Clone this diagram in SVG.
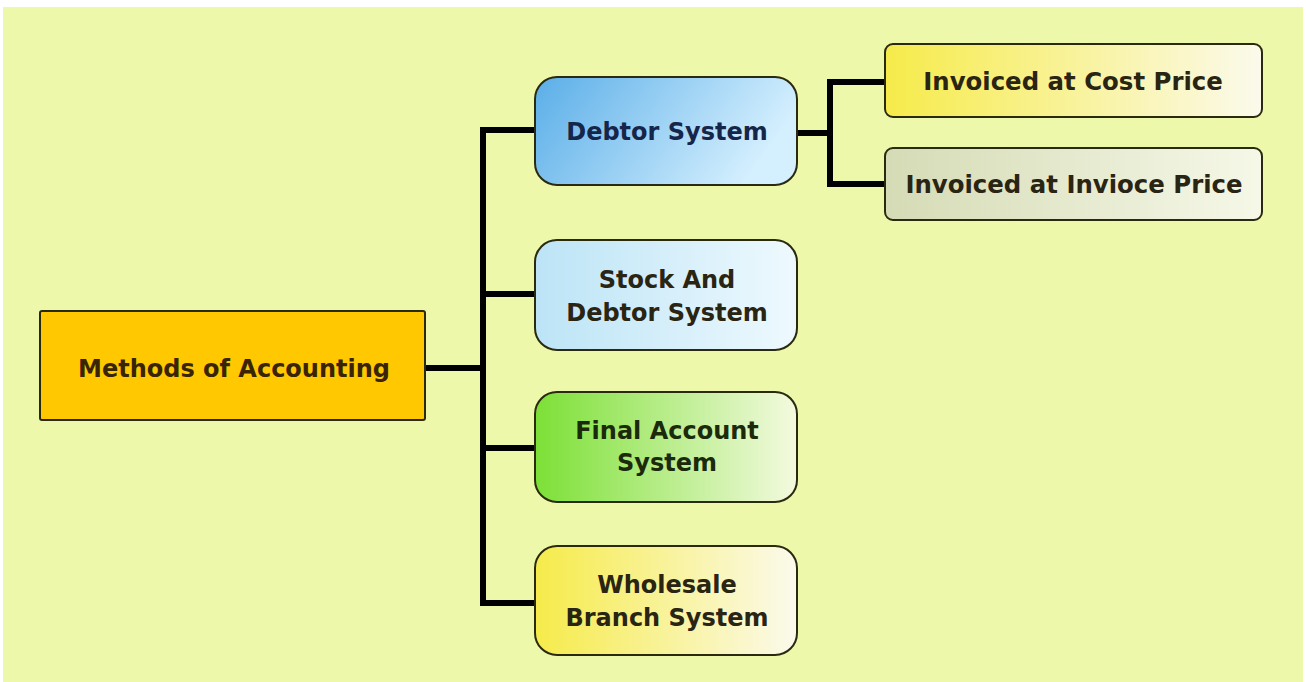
<svg xmlns="http://www.w3.org/2000/svg" width="1306" height="682" viewBox="0 0 1306 682">
<defs>
<linearGradient id="gBlue" x1="0" y1="0" x2="1" y2="0.3"><stop offset="0" stop-color="#5AAEE8"/><stop offset="1" stop-color="#D4EFFE"/></linearGradient>
<linearGradient id="gCyan" x1="0" y1="0" x2="1" y2="0"><stop offset="0" stop-color="#BCE4F6"/><stop offset="1" stop-color="#EEF9FE"/></linearGradient>
<linearGradient id="gGreen" x1="0" y1="0" x2="1" y2="0"><stop offset="0" stop-color="#7CE036"/><stop offset="1" stop-color="#F4FADF"/></linearGradient>
<linearGradient id="gYellow" x1="0" y1="0" x2="1" y2="0"><stop offset="0" stop-color="#F6EB4A"/><stop offset="1" stop-color="#FBFAEC"/></linearGradient>
<linearGradient id="gGrey" x1="0" y1="0" x2="1" y2="0"><stop offset="0" stop-color="#D5DBB5"/><stop offset="1" stop-color="#F6F8E8"/></linearGradient>
</defs>
<style>
.box{stroke:#2a2a10;stroke-width:2}
.t{font-family:"DejaVu Sans",Verdana,sans-serif;font-weight:bold;font-size:24px;text-anchor:middle;fill:#2a2412}
.big{font-size:24.4px}
.conn{fill:none;stroke:#000;stroke-width:6;stroke-linecap:square}
</style>
<rect x="0" y="0" width="1306" height="682" fill="#ffffff"/>
<rect x="3" y="7" width="1300" height="675" fill="#EEF8AB"/>
<g id="connectors">
<path class="conn" d="M428 368 H483 M483 130 V603 M483 130 H534 M483 294 H534 M483 448 H534 M483 603 H534"/>
<path class="conn" d="M800 133 H830 M830 82 V184 M830 82 H882 M830 184 H882"/>
</g>
<g id="root">
<rect class="box" x="40" y="311" width="385" height="109" rx="2" fill="#FFC800"/>
<text class="t" x="234" y="377" style="fill:#3a2406">Methods of Accounting</text>
</g>
<g id="debtor">
<rect class="box" x="535" y="77" width="262" height="108" rx="22" fill="url(#gBlue)"/>
<text class="t" x="667" y="140" style="fill:#16264a">Debtor System</text>
</g>
<g id="stock">
<rect class="box" x="535" y="240" width="262" height="110" rx="22" fill="url(#gCyan)"/>
<text class="t" x="667" y="288">Stock And</text>
<text class="t" x="667" y="321">Debtor System</text>
</g>
<g id="final">
<rect class="box" x="535" y="392" width="262" height="110" rx="22" fill="url(#gGreen)"/>
<text class="t" x="667" y="439" style="fill:#1c2a0c">Final Account</text>
<text class="t" x="667" y="471" style="fill:#1c2a0c">System</text>
</g>
<g id="wholesale">
<rect class="box" x="535" y="546" width="262" height="109" rx="22" fill="url(#gYellow)"/>
<text class="t" x="667" y="593">Wholesale</text>
<text class="t" x="667" y="626">Branch System</text>
</g>
<g id="costprice">
<rect class="box" x="885" y="44" width="377" height="73" rx="8" fill="url(#gYellow)"/>
<text class="t big" x="1073" y="90">Invoiced at Cost Price</text>
</g>
<g id="invoiceprice">
<rect class="box" x="885" y="148" width="377" height="72" rx="8" fill="url(#gGrey)"/>
<text class="t big" x="1074" y="193">Invoiced at Invioce Price</text>
</g>
</svg>
